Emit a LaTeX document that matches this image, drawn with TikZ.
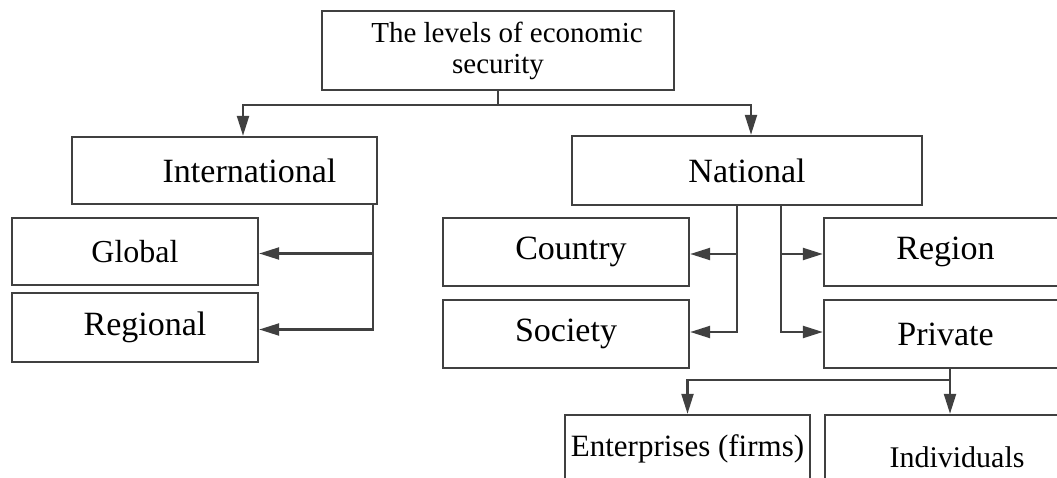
\documentclass[tikz,border=0pt]{standalone}
\usepackage{fontspec}
\setmainfont{Liberation Serif}
\usetikzlibrary{arrows.meta}
\tikzset{
  box/.style={draw=black!75, line width=2.4pt, rectangle, inner sep=0pt, font=\fontsize{34}{38}\selectfont},
  conn/.style={draw=black!75, line width=2.2pt},
  arr/.style={conn, -{Triangle[length=20pt,width=12pt]}}
}
\begin{document}
\begin{tikzpicture}[x=1pt,y=-1pt]
\useasboundingbox (0,0) rectangle (1057,478);
% boxes
\node[box, minimum width=352pt, minimum height=79pt, align=center, font=\fontsize{29}{31}\selectfont] (top) at (498,50.5) {\hspace*{18pt}The levels of economic\\security};
\node[box, minimum width=305pt, minimum height=67pt] (intl) at (224.5,170.5) {\hspace*{50pt}International};
\node[box, minimum width=350pt, minimum height=69pt] (natl) at (747,170.5) {National};
\node[box, minimum width=246pt, minimum height=67pt, font=\fontsize{32}{36}\selectfont] (global) at (135,251.5) {Global};
\node[box, minimum width=246pt, minimum height=69pt] (regional) at (135,327.5) {\hspace*{20pt}Regional};
\node[box, minimum width=246pt, minimum height=68pt] (country) at (566,252) {\hspace*{10pt}Country};
\node[box, minimum width=246pt, minimum height=68pt] (society) at (566,334) {Society};
\node[box, minimum width=243pt, minimum height=68pt] (region) at (945.5,252) {Region};
\node[box, minimum width=243pt, minimum height=68pt] (private) at (945.5,334) {Private};
\node[box, minimum width=245pt, minimum height=67pt, font=\fontsize{31}{36}\selectfont] (ent) at (687.5,448.5) {Enterprises (firms)};
\node[box, minimum width=264pt, minimum height=84pt, font=\fontsize{30}{36}\selectfont] (ind) at (957,457) {Individuals};
% connectors from top
\coordinate (j1) at (498,105);
\draw[conn] (top.south) -- (j1);
\draw[arr] (j1) -| ([xshift=18.5pt]intl.north);
\draw[arr] (j1) -| ([xshift=4pt]natl.north);
% international
\coordinate (iv) at ([xshift=148.5pt]intl.south);
\draw[arr] (iv) |- ([yshift=-2pt]global.east);
\draw[arr] (iv) |- ([yshift=-2pt]regional.east);
% national
\coordinate (nl) at ([xshift=-10pt]natl.south);
\coordinate (nr) at ([xshift=34pt]natl.south);
\draw[arr] (nl) |- ([yshift=-2pt]country.east);
\draw[arr] (nl) |- ([yshift=2pt]society.east);
\draw[arr] (nr) |- ([yshift=-2pt]region.west);
\draw[arr] (nr) |- ([yshift=2pt]private.west);
% private
\coordinate (ps) at ([xshift=4.5pt]private.south);
\coordinate (pj) at ([yshift=-11pt]ps);
\draw[arr] (ps) -- (ps |- ind.north);
\draw[arr] (pj) -| (ent.north);
\end{tikzpicture}
\end{document}
